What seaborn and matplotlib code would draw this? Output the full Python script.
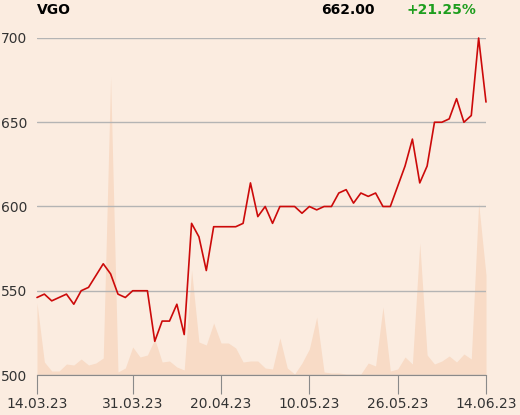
import seaborn as sns
import matplotlib.pyplot as plt
import numpy as np
import pandas as pd

# closing prices, one per trading day (14.03.23 - 14.06.23)
price = [546, 548, 544, 546, 548, 542, 550, 552, 559, 566,
         560, 548, 546, 550, 550, 550, 520, 532, 532, 542,
         524, 590, 582, 562, 588, 588, 588, 588, 590, 614,
         594, 600, 590, 600, 600, 600, 596, 600, 598, 600,
         600, 608, 610, 602, 608, 606, 608, 600, 600, 612,
         624, 640, 614, 624, 650, 650, 652, 664, 650, 654,
         700, 662]
# traded volume (relative units)
volume = [72, 13, 4, 4, 11, 10, 16, 10, 12, 17,
          298, 3, 7, 28, 18, 20, 36, 13, 14, 8,
          5, 105, 33, 30, 52, 32, 32, 27, 13, 14,
          14, 7, 6, 37, 7, 1, 12, 26, 58, 3,
          2, 2, 1, 1, 1, 12, 9, 68, 4, 6,
          18, 11, 132, 20, 11, 14, 19, 13, 21, 16,
          172, 100]
tick_labels = ['14.03.23', '31.03.23', '20.04.23', '10.05.23', '26.05.23', '14.06.23']
tick_idx = [0, 13, 25, 37, 49, 61]
y_ticks = [500, 550, 600, 650, 700]

df = pd.DataFrame({'day': np.arange(len(price)), 'price': price, 'volume': volume})

bg = '#fbece0'
sns.set_style('white')
plt.rcParams['font.family'] = ['DejaVu Sans']

fig = plt.figure(figsize=(5.2, 4.15), dpi=100, facecolor=bg)
ax = fig.add_axes([37/520, 1-375/415, 449/520, 337/415])
ax.set_facecolor(bg)

# volume area behind the price line
axv = ax.twinx()
axv.fill_between(df['day'], df['volume'], 0, color='#f8dbc6', lw=0)
axv.set_ylim(0, 337)
axv.axis('off')
ax.set_zorder(axv.get_zorder() + 1)
ax.patch.set_visible(False)
axv.patch.set_visible(False)

sns.lineplot(data=df, x='day', y='price', ax=ax, color='#cc0a0a', lw=1.2)
for l in ax.lines:
    l.set_clip_on(False)

ax.set_xlim(0, len(price) - 1)
ax.set_ylim(500, 700)
ax.set_yticks(y_ticks)
ax.set_yticklabels([str(v) for v in y_ticks])
ax.set_xticks(tick_idx)
ax.set_xticklabels(tick_labels)
ax.set_xlabel('')
ax.set_ylabel('')
ax.grid(axis='y', color='#b4b4b4', lw=1)
ax.grid(axis='x', visible=False)
for s in ['top', 'right', 'left']:
    ax.spines[s].set_visible(False)
ax.spines['bottom'].set_color('#8a8a8a')
ax.tick_params(axis='x', length=14, color='#8a8a8a', labelcolor='#333333',
               labelsize=10, pad=2, direction='out', bottom=True)
ax.tick_params(axis='y', length=0, labelsize=10, labelcolor='#333333', pad=7)

fig.text(37/520, 1-10/415, 'VGO', fontsize=10, fontweight='bold', va='center', ha='left', color='black')
fig.text(375/520, 1-10/415, '662.00', fontsize=10, fontweight='bold', va='center', ha='right', color='black')
fig.text(476/520, 1-10/415, '+21.25%', fontsize=10, fontweight='bold', va='center',
         ha='right', color='#1e9e1e')

fig.savefig('out.png', dpi=100, facecolor=bg)
